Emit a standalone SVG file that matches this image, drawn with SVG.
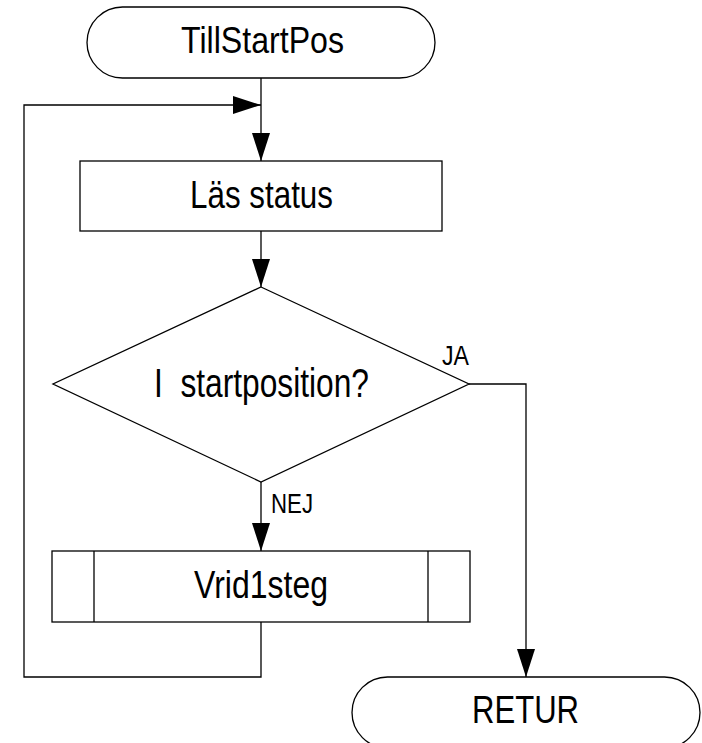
<svg xmlns="http://www.w3.org/2000/svg" width="702" height="743" viewBox="0 0 702 743">
<style>
.s{fill:#fff;stroke:#000;stroke-width:1.3}
.c{fill:none;stroke:#000;stroke-width:1.3}
.t{font-family:"Liberation Sans",Arial,sans-serif;fill:#000}
.big{font-size:38px}
.small{font-size:27px}
</style>
<defs>
<marker id="ah" viewBox="0 0 28 18" refX="28" refY="9" markerWidth="28" markerHeight="18" markerUnits="userSpaceOnUse" orient="auto">
<path d="M0,0 L28,9 L0,18 Z" fill="#000"/>
</marker>
</defs>
<rect width="702" height="743" fill="#fff"/>
<g id="connectors">
<path class="c" d="M261,78 V161" marker-end="url(#ah)"/>
<path class="c" d="M261,231 V287" marker-end="url(#ah)"/>
<path class="c" d="M261,482 V551" marker-end="url(#ah)"/>
<path class="c" d="M469,384 H526 V677" marker-end="url(#ah)"/>
<path class="c" d="M261,622 V677 H24 V105 H261" marker-end="url(#ah)"/>
</g>
<g id="start">
<rect class="s" x="87" y="7" width="348" height="71" rx="35.5" ry="35.5"/>
<text class="t" x="181" y="53" font-size="36" textLength="163" lengthAdjust="spacingAndGlyphs">TillStartPos</text>
</g>
<g id="las">
<rect class="s" x="80" y="161" width="362" height="70"/>
<text class="t big" x="190" y="208" textLength="143" lengthAdjust="spacingAndGlyphs">Läs status</text>
</g>
<g id="decision">
<polygon class="s" points="261,287 469,384 261,482 53,384"/>
<text class="t" x="154" y="397" font-size="40" textLength="215" lengthAdjust="spacingAndGlyphs" xml:space="preserve">I  startposition?</text>
<text class="t small" x="442" y="365" textLength="27" lengthAdjust="spacingAndGlyphs">JA</text>
<text class="t small" x="271" y="513" textLength="42" lengthAdjust="spacingAndGlyphs">NEJ</text>
</g>
<g id="vrid">
<rect class="s" x="52" y="551" width="418" height="71"/>
<line class="c" x1="94" y1="551" x2="94" y2="622"/>
<line class="c" x1="428" y1="551" x2="428" y2="622"/>
<text class="t big" x="194" y="598" textLength="134" lengthAdjust="spacingAndGlyphs">Vrid1steg</text>
</g>
<g id="retur">
<rect class="s" x="352" y="677" width="348" height="71" rx="35.5" ry="35.5"/>
<text class="t big" x="472" y="723" textLength="107" lengthAdjust="spacingAndGlyphs">RETUR</text>
</g>
</svg>
